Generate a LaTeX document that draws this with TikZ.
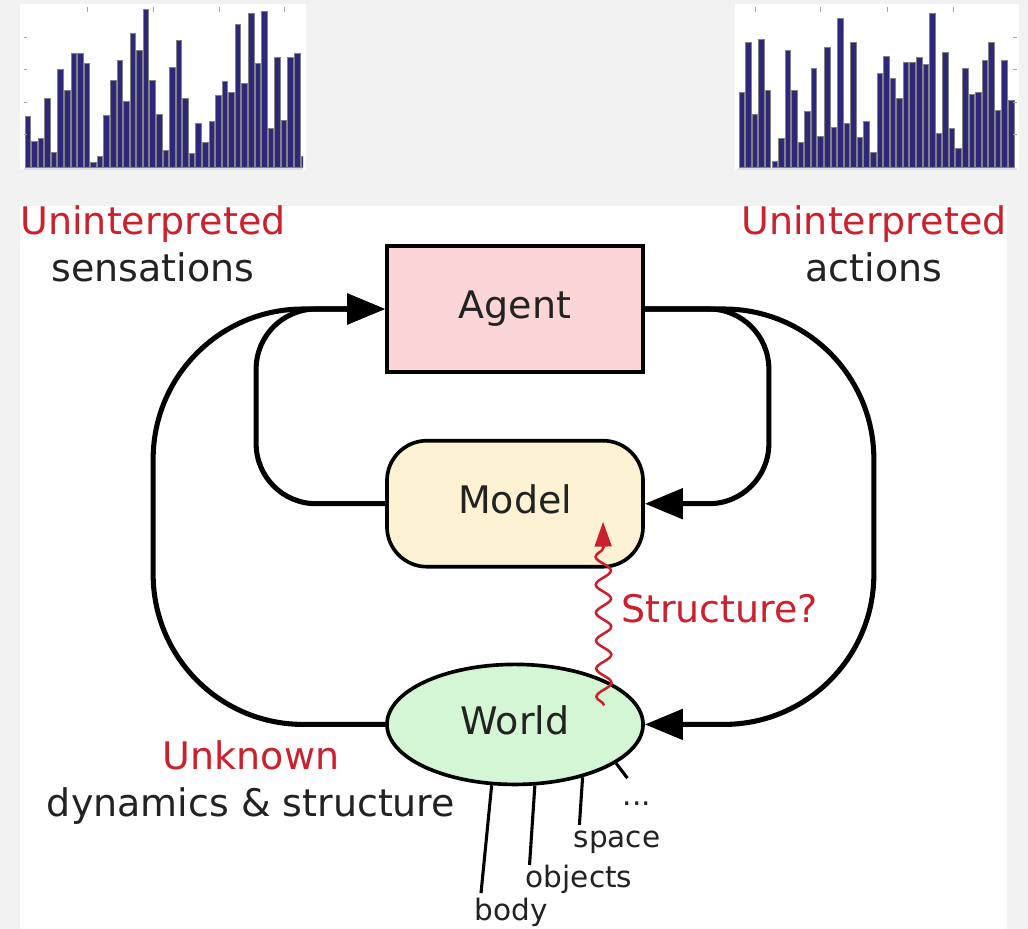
\documentclass[tikz,border=0pt]{standalone}
\usepackage{fontspec}
\setmainfont{DejaVu Sans}
\usetikzlibrary{positioning}
\usetikzlibrary{calc}
\usetikzlibrary{shapes.geometric}
\usetikzlibrary{arrows.meta}
\usetikzlibrary{decorations.pathmorphing}
\definecolor{redtxt}{RGB}{204,32,44}
\definecolor{darktxt}{RGB}{34,34,34}
\definecolor{agentfill}{RGB}{252,214,214}
\definecolor{modelfill}{RGB}{253,243,212}
\definecolor{worldfill}{RGB}{212,246,212}
\definecolor{barfill}{RGB}{46,40,122}
\definecolor{bargray}{RGB}{130,130,130}
\definecolor{bggray}{RGB}{242,242,242}

\begin{document}
\begin{tikzpicture}[x=0.025cm, y=-0.025cm,
	bignode/.style={draw=black, line width=2.6pt, minimum width=6.4cm, minimum height=3.15cm, inner sep=0pt, text=darktxt, font=\fontsize{27}{33}\selectfont, text height=20.5pt, text depth=6.5pt},
	agentnode/.style={bignode, rectangle, fill=agentfill},
	modelnode/.style={bignode, rectangle, rounded corners=1cm, fill=modelfill},
	worldnode/.style={bignode, ellipse, fill=worldfill, minimum height=3cm},
	lbl/.style={inner sep=0pt, font=\fontsize{27}{33}\selectfont, text=darktxt, text height=20.5pt, text depth=6.5pt},
	redlbl/.style={lbl, text=redtxt},
	small/.style={inner sep=0pt, font=\fontsize{21}{25}\selectfont, text=darktxt, text height=16pt, text depth=5pt},
	flow/.style={line width=3.6pt, rounded corners=3.75cm, -{Triangle[length=0.95cm,width=0.75cm]}},
	feat/.style={line width=2.2pt},
	wavy/.style={draw=redtxt, line width=1.8pt, decorate, decoration={snake, amplitude=0.19cm, segment length=0.7cm, post length=0.6cm}, -{Triangle[length=0.62cm,width=0.42cm]}, color=redtxt},
	bar/.style={fill=barfill, draw=bargray, line width=0.5pt},
	tick/.style={draw=gray!70, line width=0.7pt},
	node distance = 1.6cm]
		\fill[bggray] (0,0) rectangle (1028,929);
		\fill[white] (20,206) rectangle (1007,929);
		\fill[white] (20,4) rectangle (306,170);
		\fill[white] (735,4) rectangle (1019,170);
		\begin{scope}
			\clip (24,0) rectangle (303,170);
			\foreach \h [count=\i] in {51,26,29,69,15,98,77,114,114,104,5,11,52,87,107,66,134,117,158,87,53,17,100,127,69,14,44,25,46,72,86,75,143,84,154,104,156,39,110,47,110,114,11}
				\filldraw[bar] ({25+(\i-1)*6.57},167) rectangle ++(5.5,-\h);
		\end{scope}
		\foreach \h [count=\i] in {75,125,53,128,77,6,29,117,77,25,56,99,31,120,40,149,44,125,30,46,15,94,111,89,69,105,105,110,103,154,34,115,39,19,99,73,75,107,125,57,107,67}
			\filldraw[bar] ({739+(\i-1)*6.57},167) rectangle ++(5.5,-\h);
		\draw[gray!25, line width=1.5pt] (24,169) -- (303,169);
		\draw[gray!25, line width=1.5pt] (738,169) -- (1017,169);
		\foreach \t in {87,153,219,284} \draw[tick] (\t,7) -- ++(0,5);
		\foreach \t in {37,69,102,134} \draw[tick] (24,\t) -- ++(3,0);
		\foreach \t in {755,820,887,953} \draw[tick] (\t,7) -- ++(0,5);
		\foreach \t in {37,69,102,134} \draw[tick] (1017,\t) -- ++(-4,0);

		\node[agentnode] (agent) at (515,309) {Agent};
		\node[modelnode] (model)[below = 1.625cm of agent]{Model};
		\node[worldnode] (world)[below = 2.35cm of model]{World};

		\node[redlbl] (uninsens) at (153,225) {Uninterpreted};
		\node[lbl] (sens)[below = 0.2cm of uninsens] {sensations};
		\node[redlbl] (uninact) at (874,225) {Uninterpreted};
		\node[lbl] (act)[below = 0.2cm of uninact] {actions};
		\node[redlbl] (unknown) at (251,760) {Unknown};
		\node[lbl] (dyn)[below = 0.2cm of unknown] {dynamics \& structure};
		\node[redlbl, anchor=west] (struct) at (621,613) {Structure?};

		\node[small] (body) at (511,913) {body};
		\node[small] (objects) at (579,880) {objects};
		\node[small] (space) at (617,840) {space};
		\node[small] (dots) at (637,798) {...};

		\draw[flow] (world.west) -- ++(-232,0) |- (agent.west);
		\draw[flow, rounded corners=1.5cm] (model.west) -- ++(-129,0) |- (agent.west);
		\draw[flow, rounded corners=1.5cm] (agent.east) -- ++(124,0) |- (model.east);
		\draw[flow] (agent.east) -- ++(229,0) |- (world.east);

		\draw[wavy] ([xshift=2.225cm,yshift=0.475cm]world.center) -- ([xshift=2.2cm,yshift=-0.45cm]model.center);

		\draw[feat] (world.249) -- ([xshift=0.17cm,yshift=0.12cm]body.north west);
		\draw[feat] (world.288) -- ([xshift=0.1cm]objects.north west);
		\draw[feat] (world.322) -- ([xshift=0.15cm]space.north west);
		\draw[feat] (world.339) -- ([xshift=0.12cm,yshift=0.12cm]dots.north west);
\end{tikzpicture}
\end{document}
